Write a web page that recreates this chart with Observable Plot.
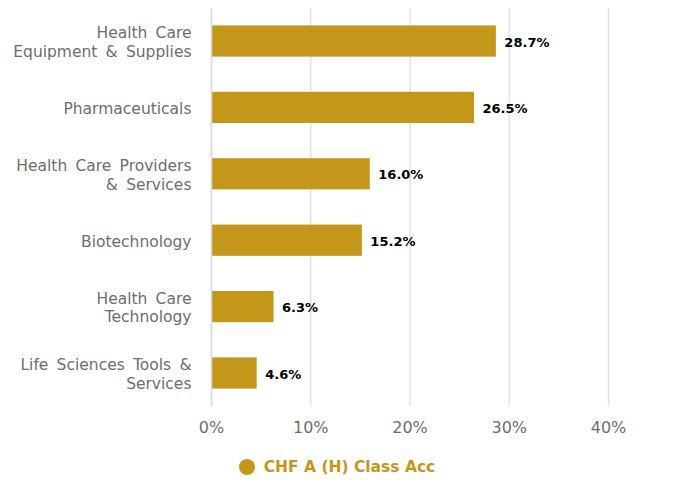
<!DOCTYPE html>
<html><head><meta charset="utf-8">
<script src="https://cdn.jsdelivr.net/npm/d3@7"></script>
<script src="https://cdn.jsdelivr.net/npm/@observablehq/plot@0.6"></script>
<style>
body{margin:0;background:#fff;font-family:"DejaVu Sans",sans-serif}
#legend{display:flex;justify-content:center;align-items:center;margin-top:13px;height:18px;gap:9px;font-weight:bold;font-size:15.5px;color:#C4971A;padding-right:6px}
#legend .dot{width:16px;height:16px;border-radius:50%;background:#C4971A;display:inline-block}
g[aria-label="y-axis tick label"] text{word-spacing:3.3px}
</style>
</head><body><div id="chart"></div>
<script>
const categories = [
  "Health Care\nEquipment & Supplies",
  "Pharmaceuticals",
  "Health Care Providers\n& Services",
  "Biotechnology",
  "Health Care\nTechnology",
  "Life Sciences Tools &\nServices"
];
const values = [28.7, 26.5, 16.0, 15.2, 6.3, 4.6];
const xTicks = [0, 10, 20, 30, 40];
const seriesName = "CHF A (H) Class Acc";
const color = "#C4971A";

const data = categories.map((c, i) => ({category: c, value: values[i]}));

const plot = Plot.plot({
  width: 680, height: 445,
  marginTop: 8, marginBottom: 39, marginLeft: 211, marginRight: 72,
  style: {fontFamily: "DejaVu Sans", fontSize: "16px", color: "#666", background: "#fff"},
  x: {domain: [0, 40]},
  y: {domain: categories, paddingInner: 0.53, paddingOuter: 0.262, round: false},
  marks: [
    Plot.gridX(xTicks, {stroke: "#e3e3e3", strokeOpacity: 1, strokeWidth: 1.5}),
    Plot.barX(data, {x: "value", y: "category", fill: color}),
    Plot.ruleX([0], {stroke: "#d5dbe8", strokeWidth: 1.5}),
    Plot.text(data, {x: "value", y: "category", text: d => d.value.toFixed(1) + "%", textAnchor: "start", dx: 8, dy: 1, fill: "#000", fontWeight: "bold", fontSize: 13}),
    Plot.axisX(xTicks, {tickSize: 0, tickPadding: 15, tickFormat: d => d + "%", label: null, fill: "#6e6e6e", fontSize: 16}),
    Plot.axisY({tickSize: 0, tickPadding: 20, label: null, lineHeight: 1.2, fill: "#6e6e6e", fontSize: 15.5})
  ]
});
document.getElementById("chart").appendChild(plot);
const lg = document.createElement("div");
lg.id = "legend";
lg.innerHTML = '<span class="dot"></span><span></span>';
lg.lastChild.textContent = seriesName;
document.getElementById("chart").appendChild(lg);
</script>
</body></html>
